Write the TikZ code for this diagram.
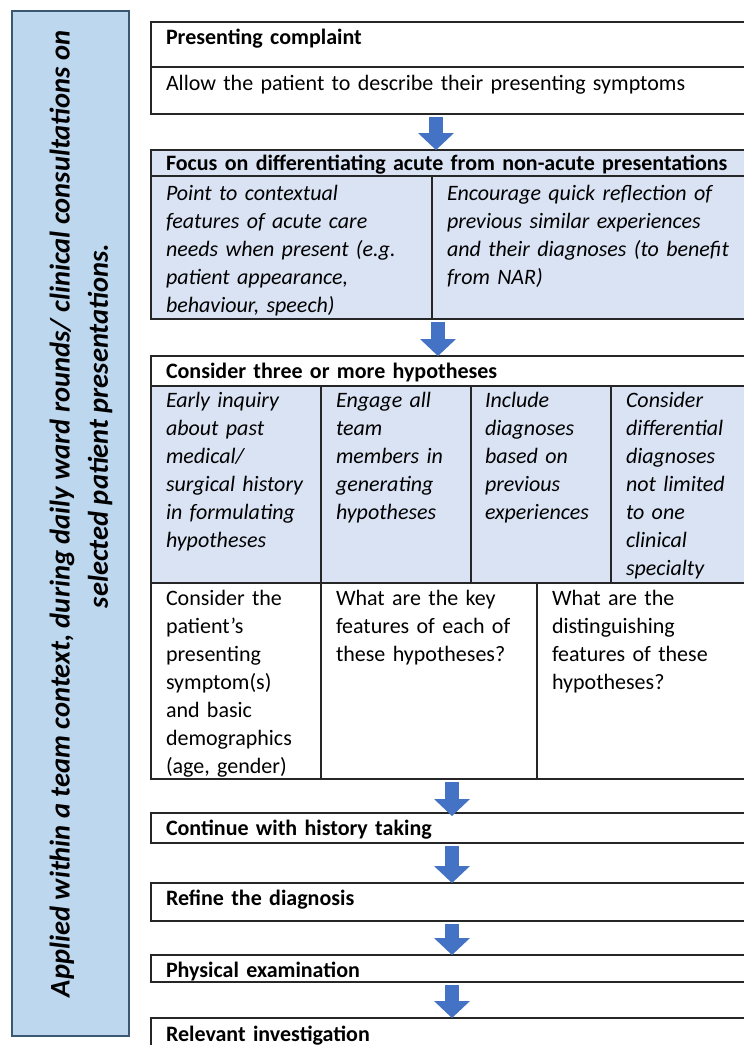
\documentclass[tikz,border=0pt]{standalone}
\usepackage{fontspec}
\setmainfont{Carlito}
\usetikzlibrary{positioning}
\usetikzlibrary{arrows.meta}
\definecolor{cell-blue}{HTML}{DAE3F3}
\definecolor{bar-blue}{HTML}{BDD7EE}
\definecolor{bar-edge}{HTML}{3B5873}
\definecolor{arrow-blue}{HTML}{4472C4}
\colorlet{rule}{black!85}
\newcommand{\flowfont}{\fontsize{22}{28}\selectfont}
\newcommand{\barfont}{\fontsize{28.5}{35}\selectfont\bfseries\itshape}
\tikzset{
  frame/.style={draw=rule, line width=1.3pt, inner sep=0pt, outer sep=0pt, anchor=north west},
  txt/.style={anchor=north west, inner sep=0pt, outer sep=0pt, align=left, text height=17pt, font=\flowfont, text width=#1},
  txt/.default=570pt,
  flow/.style={draw=arrow-blue, line width=14pt, shorten <=3pt, -{Triangle[width=36pt,length=17pt,line width=0pt]}},
}

\begin{document}
\begin{tikzpicture}[x=1pt, y=-1pt]
\useasboundingbox (0,0) rectangle (744,1045);
\clip (0,0) rectangle (744,1045);
% side bar
\node[draw=bar-edge, fill=bar-blue, line width=2pt, anchor=north west, minimum width=117pt, minimum height=1025pt, inner sep=0pt] (bar) at (11,10) {};
\node[rotate=90, font=\barfont] (barline1) at (62,514) {Applied within a team context, during daily ward rounds/ clinical consultations on};
\node[rotate=90, font=\barfont] (barline2) at (100,426) {selected patient presentations.};
% presenting complaint
\node[frame, minimum width=609pt, minimum height=45pt] (complainthead) at (151,22) {};
\node[frame, minimum width=609pt, minimum height=47pt] (complaintbody) at (151,67) {};
\node[txt, font=\flowfont\bfseries] (complainttitle) at (166,27) {Presenting complaint};
\node[txt] (complainttext) at (166,73) {Allow the patient to describe their presenting symptoms};
% acute or not
\node[frame, fill=cell-blue, minimum width=609pt, minimum height=26pt] (focushead) at (151,150) {};
\node[frame, fill=cell-blue, minimum width=281pt, minimum height=143pt] (focusleft) at (151,176) {};
\node[frame, fill=cell-blue, minimum width=328pt, minimum height=143pt] (focusright) at (432,176) {};
\node[txt, font=\flowfont\bfseries] (focustitle) at (166,153) {Focus on differentiating acute from non-acute presentations};
\node[txt=265pt, font=\flowfont\itshape] (focusa) at (166,183) {Point to contextual\\features of acute care\\needs when present (e.g.\\patient appearance,\\behaviour, speech)};
\node[txt=300pt, font=\flowfont\itshape] (focusb) at (447,183) {Encourage quick reflection of\\previous similar experiences\\and their diagnoses (to benefit\\from NAR)};
% hypotheses
\node[frame, minimum width=609pt, minimum height=30pt] (hypohead) at (151,356) {};
\node[frame, fill=cell-blue, minimum width=170pt, minimum height=197pt] (hypoa) at (151,386) {};
\node[frame, fill=cell-blue, minimum width=150pt, minimum height=197pt] (hypob) at (321,386) {};
\node[frame, fill=cell-blue, minimum width=140pt, minimum height=197pt] (hypoc) at (471,386) {};
\node[frame, fill=cell-blue, minimum width=149pt, minimum height=197pt] (hypod) at (611,386) {};
\node[txt, font=\flowfont\bfseries] (hypotitle) at (166,361) {Consider three or more hypotheses};
\node[txt=160pt, font=\flowfont\itshape] (hypotexta) at (166,390) {Early inquiry\\about past\\medical/\\surgical history\\in formulating\\hypotheses};
\node[txt=140pt, font=\flowfont\itshape] (hypotextb) at (336,390) {Engage all\\team\\members in\\generating\\hypotheses};
\node[txt=130pt, font=\flowfont\itshape] (hypotextc) at (485,390) {Include\\diagnoses\\based on\\previous\\experiences};
\node[txt=130pt, font=\flowfont\itshape] (hypotextd) at (626,390) {Consider\\differential\\diagnoses\\not limited\\to one\\clinical\\specialty};
% features
\node[frame, minimum width=170pt, minimum height=196pt] (feata) at (151,583) {};
\node[frame, minimum width=216pt, minimum height=196pt] (featb) at (321,583) {};
\node[frame, minimum width=223pt, minimum height=196pt] (featc) at (537,583) {};
\node[txt=160pt] (feattexta) at (166,588) {Consider the\\patient’s\\presenting\\symptom(s)\\and basic\\demographics\\(age, gender)};
\node[txt=200pt] (feattextb) at (336,588) {What are the key\\features of each of\\these hypotheses?};
\node[txt=200pt] (feattextc) at (552,588) {What are the\\distinguishing\\features of these\\hypotheses?};
% later steps
\node[frame, minimum width=609pt, minimum height=30pt] (history) at (151,813) {};
\node[frame, minimum width=609pt, minimum height=38pt] (refine) at (151,883) {};
\node[frame, minimum width=609pt, minimum height=27pt] (physical) at (151,955) {};
\node[frame, minimum width=609pt, minimum height=40pt] (investigation) at (151,1018) {};
\node[txt, font=\flowfont\bfseries] (historytext) at (166,818) {Continue with history taking};
\node[txt, font=\flowfont\bfseries] (refinetext) at (166,888) {Refine the diagnosis};
\node[txt, font=\flowfont\bfseries] (physicaltext) at (166,960) {Physical examination};
\node[txt, font=\flowfont\bfseries] (investigationtext) at (166,1024) {Relevant investigation};
% arrows
\coordinate (axisa) at (436,0);
\coordinate (axisb) at (438,0);
\coordinate (axisc) at (452,0);
\draw[flow] (axisa |- complaintbody.south) -- (axisa |- focushead.north);
\draw[flow] (axisb |- focusleft.south) -- (axisb |- hypohead.north);
\draw[flow, shorten >=-3pt] (axisc |- feata.south) -- (axisc |- history.north);
\draw[flow] (axisc |- history.south) -- (axisc |- refine.north);
\draw[flow] (axisc |- refine.south) -- (axisc |- physical.north);
\draw[flow] (axisc |- physical.south) -- (axisc |- investigation.north);
\end{tikzpicture}
\end{document}
